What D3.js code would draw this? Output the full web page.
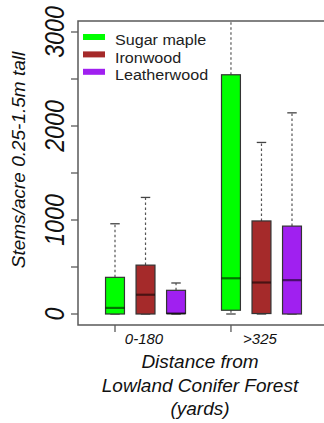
<!DOCTYPE html>
<html><head><meta charset="utf-8">
<script src="https://cdn.jsdelivr.net/npm/d3@7"></script>
<style>
html,body{margin:0;padding:0;background:#fff;}
svg{display:block;font-family:"Liberation Sans",Arial,sans-serif;}
</style></head>
<body>
<svg id="chart" width="324" height="423"></svg>
<script>
// ---- data (stems/acre) ----
const groups = ["0-180", ">325"];
const species = ["Sugar maple", "Ironwood", "Leatherwood"];
const colors = ["#00ff00", "#a52a2a", "#a020f0"];
// each array: [group 0-180, group >325]
const sugarStats   = {lo:[0,0], q1:[0,40], med:[65,380], q3:[390,2545], hi:[960,3150]};
const ironStats    = {lo:[0,0], q1:[0,5],  med:[205,335], q3:[520,990], hi:[1240,1825]};
const leatherStats = {lo:[0,0], q1:[5,0],  med:[5,360],  q3:[252,935], hi:[330,2140]};
const yTicks = [0, 500, 1000, 1500, 2000, 2500, 3000];
const yLabels = [0, 1000, 2000, 3000];

const stats = [sugarStats, ironStats, leatherStats];
const svg = d3.select("#chart");

const plot = {left:78, top:21, bottom:325, right:340};
const y = d3.scaleLinear().domain([0, 3000]).range([314, 32]);
const x = d3.scaleLinear().domain([1, 6.8]).range([115, 292]);
const pos = (g, i) => 1 + g * 3.8 + i;
const bw = x(1.62) - x(1); // box width

svg.append("defs").append("clipPath").attr("id","clip")
  .append("rect").attr("x", plot.left).attr("y", plot.top)
  .attr("width", plot.right - plot.left).attr("height", plot.bottom - plot.top);

const frameColor = "#5a5a5a";

// boxes
const gBox = svg.append("g").attr("clip-path", "url(#clip)");
groups.forEach((gname, g) => {
  species.forEach((sp, i) => {
    const s = stats[i];
    const cx = x(pos(g, i));
    const cap = bw / 2;
    gBox.append("line").attr("x1", cx).attr("x2", cx)
      .attr("y1", y(s.q3[g])).attr("y2", y(s.hi[g]))
      .attr("stroke", "#555").attr("stroke-width", 1.2).attr("stroke-dasharray", "2.5,2.5");
    gBox.append("line").attr("x1", cx).attr("x2", cx)
      .attr("y1", y(s.q1[g])).attr("y2", y(s.lo[g]))
      .attr("stroke", "#555").attr("stroke-width", 1.2).attr("stroke-dasharray", "2.5,2.5");
    [s.hi[g], s.lo[g]].forEach(v => {
      gBox.append("line").attr("x1", cx - cap/2).attr("x2", cx + cap/2)
        .attr("y1", y(v)).attr("y2", y(v))
        .attr("stroke", "#444").attr("stroke-width", 1.3);
    });
    gBox.append("rect").attr("x", cx - bw/2).attr("width", bw)
      .attr("y", y(s.q3[g])).attr("height", y(s.q1[g]) - y(s.q3[g]))
      .attr("fill", colors[i]).attr("stroke", "#333").attr("stroke-width", 1.2);
    gBox.append("line").attr("x1", cx - bw/2).attr("x2", cx + bw/2)
      .attr("y1", y(s.med[g])).attr("y2", y(s.med[g]))
      .attr("stroke", "#000").attr("stroke-opacity", 0.55).attr("stroke-width", 2.2);
  });
});

// frame
svg.append("path")
  .attr("d", `M${plot.right},${plot.top}H${plot.left}V${plot.bottom}H${plot.right}`)
  .attr("fill", "none").attr("stroke", frameColor).attr("stroke-width", 1.5);

// y ticks
yTicks.forEach(t => {
  svg.append("line").attr("x1", plot.left - 7).attr("x2", plot.left)
    .attr("y1", y(t)).attr("y2", y(t)).attr("stroke", frameColor).attr("stroke-width", 1.3);
});
yLabels.forEach(t => {
  svg.append("text")
    .attr("transform", `translate(64,${y(t)}) rotate(-90) scale(0.86,1)`)
    .attr("text-anchor", "middle").attr("font-size", 27).attr("font-style", "italic")
    .attr("fill", "#111").text(t);
});

// x ticks and labels
groups.forEach((gname, g) => {
  const tx = x(pos(g, 0));
  svg.append("line").attr("x1", tx).attr("x2", tx).attr("y1", plot.bottom).attr("y2", plot.bottom + 7)
    .attr("stroke", frameColor).attr("stroke-width", 1.3);
  svg.append("text").attr("x", x(pos(g, 0.95))).attr("y", 344)
    .attr("text-anchor", "middle").attr("font-size", 15).attr("font-style", "italic")
    .attr("fill", "#111").text(gname);
});

// axis titles
svg.append("text")
  .attr("transform", "translate(25,160) rotate(-90)")
  .attr("text-anchor", "middle").attr("font-size", 19).attr("font-style", "italic")
  .attr("fill", "#111").text("Stems/acre 0.25-1.5m tall");
const xTitle = ["Distance from", "Lowland Conifer Forest", "(yards)"];
xTitle.forEach((t, k) => {
  svg.append("text").attr("x", 200).attr("y", 368 + k * 23.5)
    .attr("text-anchor", "middle").attr("font-size", 19).attr("font-style", "italic")
    .attr("fill", "#111").text(t);
});

// legend
species.forEach((sp, i) => {
  const ly = 37 + i * 17.4;
  svg.append("rect").attr("x", 83).attr("y", ly - 3).attr("width", 22).attr("height", 6)
    .attr("fill", colors[i]);
  svg.append("text").attr("x", 115).attr("y", ly + 8.5)
    .attr("transform", `translate(115,0) scale(1.04,1) translate(-115,0)`)
    .attr("font-size", 15.5).attr("fill", "#222").text(sp);
});
</script>
</body></html>
